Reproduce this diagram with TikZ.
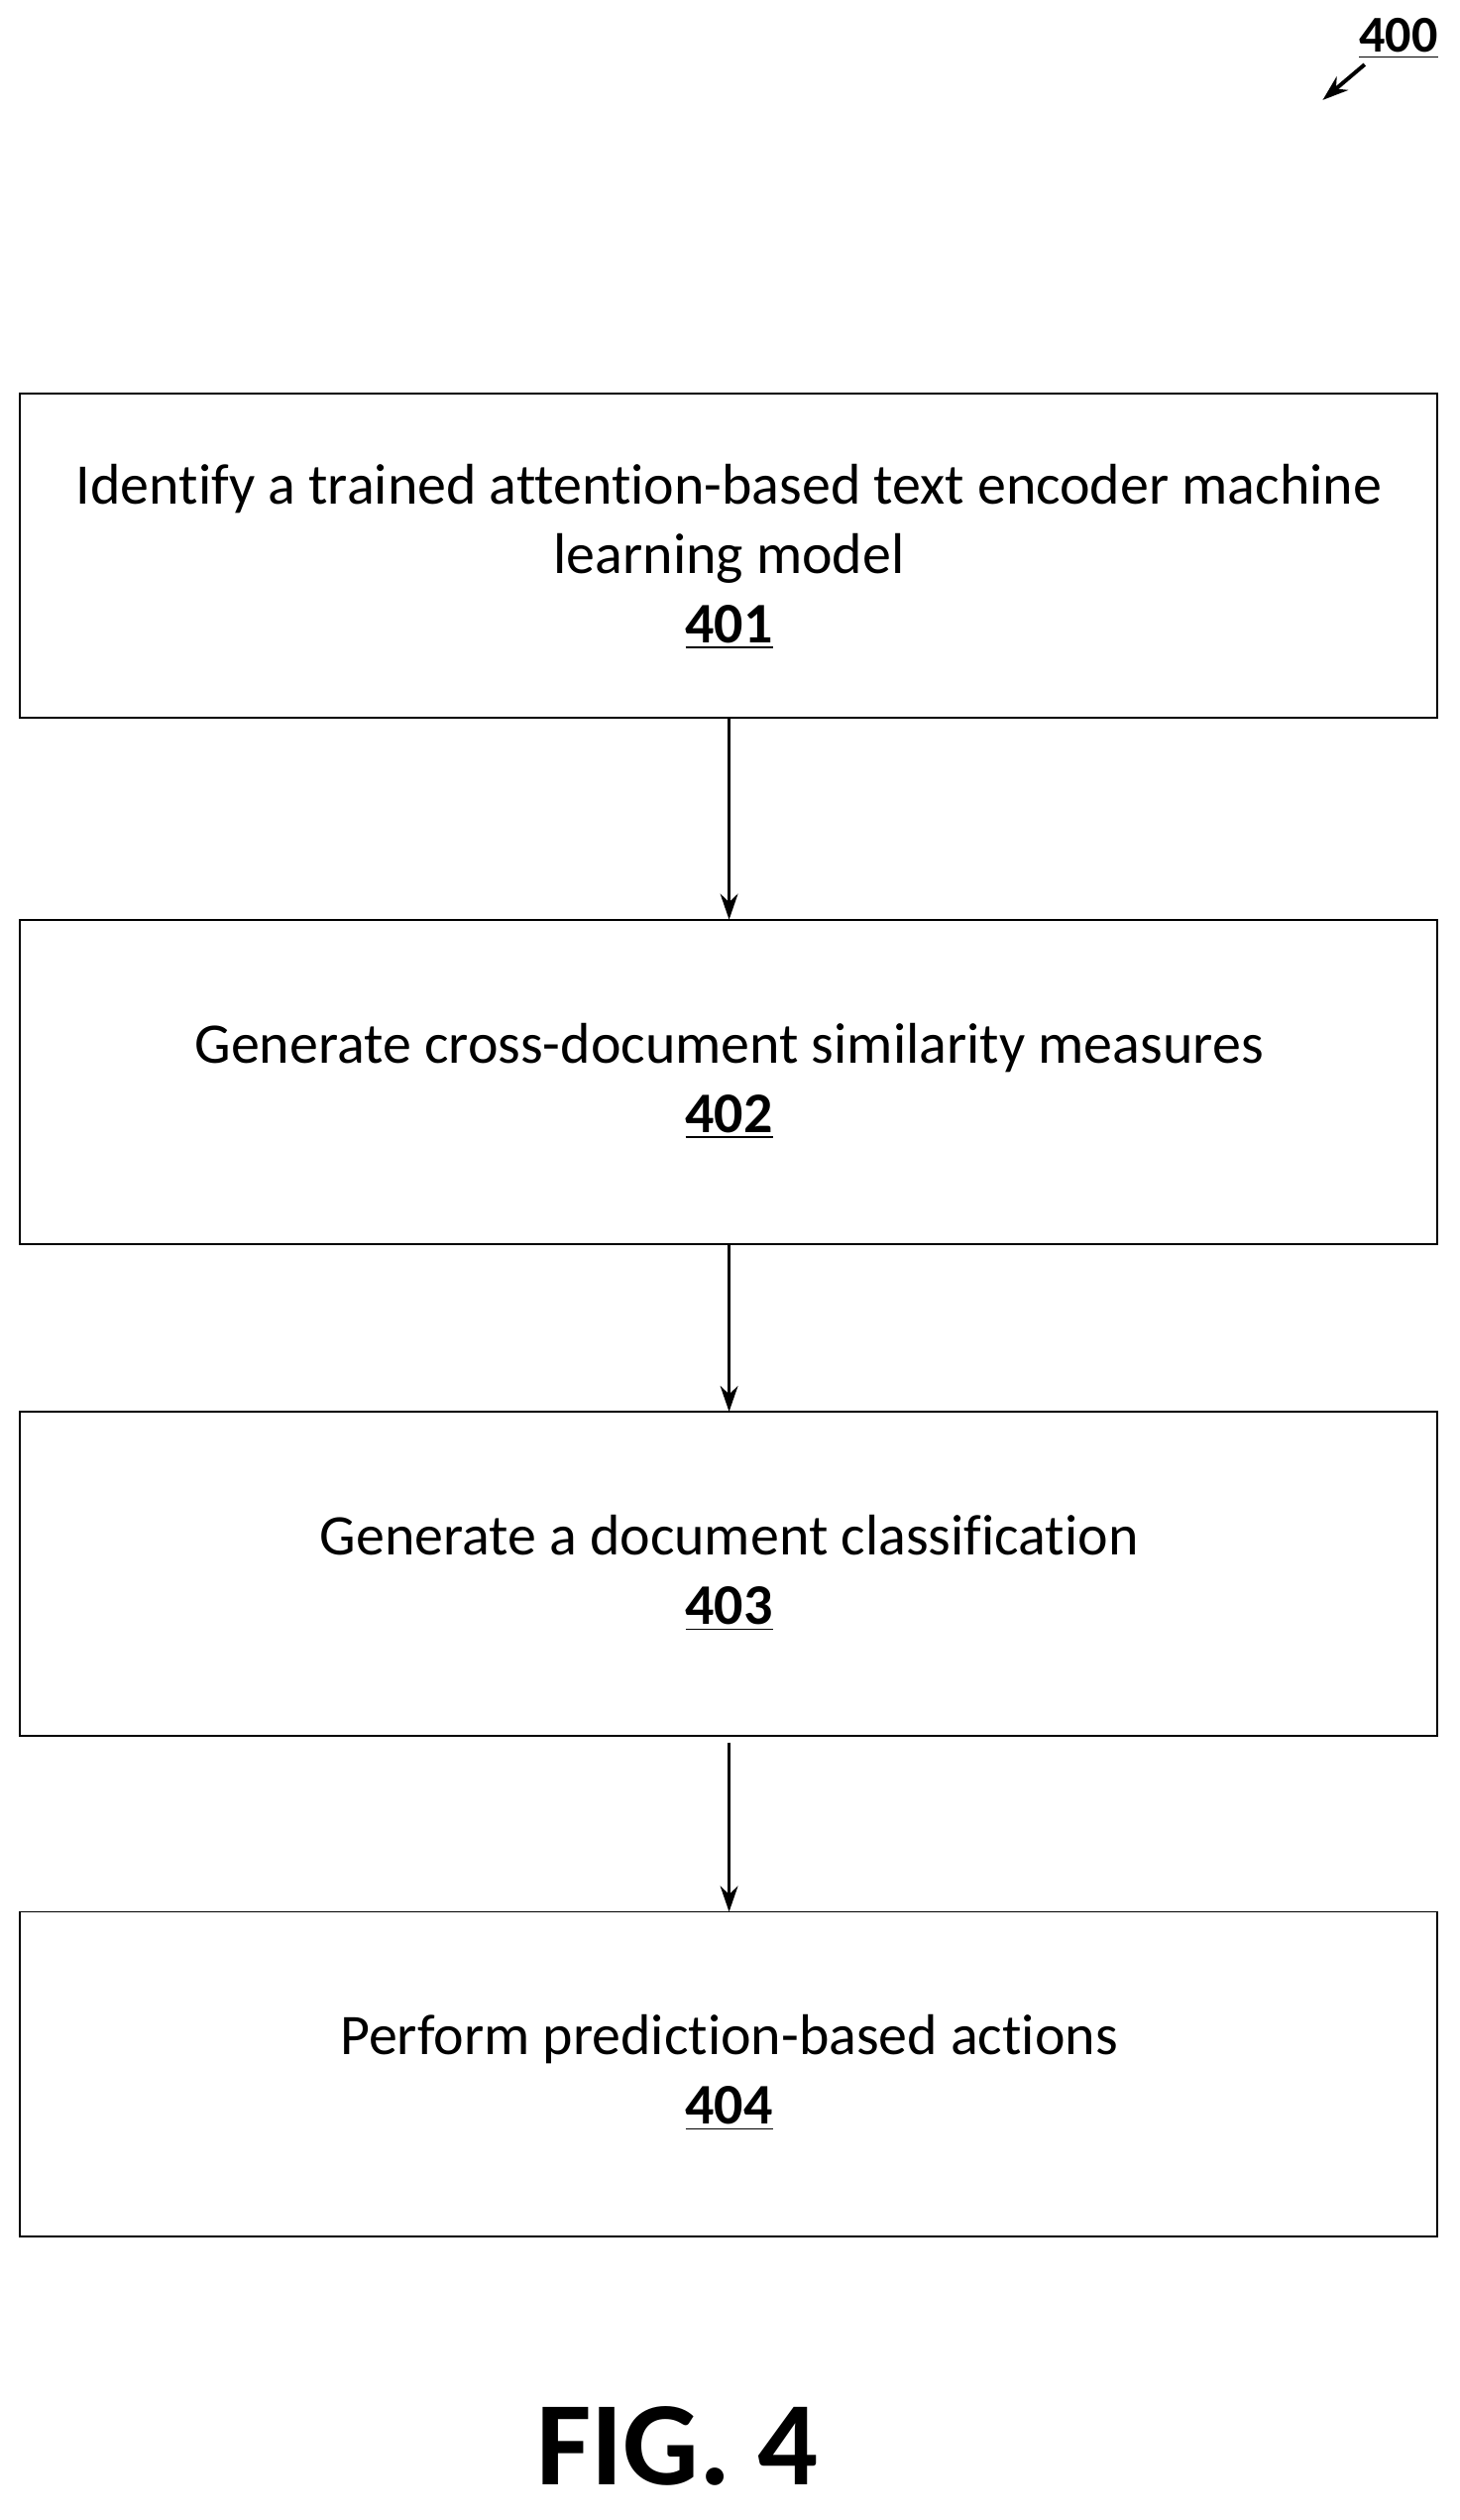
\documentclass[tikz,border=0pt]{standalone}
\usepackage{fontspec}
\setmainfont[Ligatures=NoCommon]{Carlito}
\usetikzlibrary{arrows.meta}
\begin{document}
\begin{tikzpicture}[x=0.5pt,y=-0.5pt,
  box/.style={draw,line width=0.6pt},
  lbl/.style={font=\fontsize{17.8}{21.5}\selectfont,align=center},
  arr/.style={-{Stealth[length=8pt,width=5.5pt]},line width=0.7pt}]
\useasboundingbox (0,0) rectangle (905,1562);
\draw[box] (12,244) rectangle (891,445); \path (12,244) -- (891,445) node[midway] (b1) {};
\draw[box] (12,570) rectangle (891,771); \path (12,570) -- (891,771) node[midway] (b2) {};
\draw[box] (12,875) rectangle (891,1076); \path (12,875) -- (891,1076) node[midway] (b3) {};
\draw[box] (12,1185) rectangle (891,1386); \path (12,1185) -- (891,1386) node[midway] (b4) {};
\node[lbl] (t1) at (452,345) {Identify a trained attention-based text encoder machine\\learning model\\\textbf{\underline{401}}};
\node[lbl] (t2) at (452,670) {Generate cross-document similarity measures\\\textbf{\underline{402}}};
\node[lbl] (t3) at (452,975) {Generate a document classification\\\textbf{\underline{403}}};
\node[lbl] (t4) at (452,1285) {Perform prediction-based actions\\\textbf{\underline{404}}};
\coordinate (a1) at (452,445); \coordinate (a2) at (452,570);
\coordinate (a3) at (452,771); \coordinate (a4) at (452,875);
\coordinate (a5) at (452,1080); \coordinate (a6) at (452,1185);
\draw[arr] (a1) -- (a2);
\draw[arr] (a3) -- (a4);
\draw[arr] (a5) -- (a6);
\node[font=\fontsize{16}{18}\selectfont\bfseries] (n400) at (867,24) {\underline{400}};
\coordinate (p1) at (846,40); \coordinate (p2) at (820,62);
\draw[arr,line width=1.2pt] (p1) -- (p2);
\node[font=\fontsize{37}{40}\selectfont\bfseries] (fig) at (420,1516) {FIG. 4};
\end{tikzpicture}
\end{document}
